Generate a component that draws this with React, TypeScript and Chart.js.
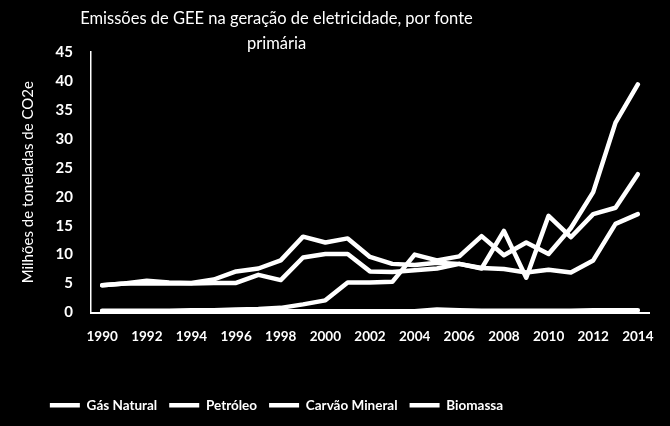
import { useEffect, useRef } from "react";
import { Chart, registerables } from "chart.js";

Chart.register(...registerables);

const years = [
  "1990", "1991", "1992", "1993", "1994", "1995", "1996", "1997", "1998", "1999",
  "2000", "2001", "2002", "2003", "2004", "2005", "2006", "2007", "2008", "2009",
  "2010", "2011", "2012", "2013", "2014",
];
const gasNatural = [0.3, 0.3, 0.3, 0.3, 0.4, 0.4, 0.5, 0.6, 0.8, 1.4, 2.1, 5.2, 5.2, 5.3, 10.0, 9.0, 9.7, 13.2, 9.9, 12.1, 10.1, 14.6, 20.8, 32.8, 39.4];
const petroleo = [4.7, 5.0, 5.5, 5.2, 5.1, 5.7, 7.1, 7.6, 9.0, 13.1, 12.1, 12.8, 9.6, 8.4, 8.2, 8.6, 8.4, 7.6, 14.1, 6.0, 16.7, 13.0, 17.0, 18.1, 23.9];
const carvaoMineral = [4.7, 5.0, 5.0, 5.0, 5.0, 5.1, 5.1, 6.5, 5.6, 9.5, 10.1, 10.1, 7.1, 7.0, 7.3, 7.6, 8.4, 7.7, 7.5, 6.9, 7.4, 6.9, 9.0, 15.3, 17.0];
const biomassa = [0.2, 0.2, 0.2, 0.2, 0.2, 0.2, 0.2, 0.2, 0.2, 0.2, 0.2, 0.2, 0.2, 0.2, 0.2, 0.5, 0.4, 0.3, 0.3, 0.3, 0.3, 0.3, 0.4, 0.4, 0.4];
const seriesNames = ["Gás Natural", "Petróleo", "Carvão Mineral", "Biomassa"];
const titleLines = ["Emissões de GEE na geração de eletricidade, por fonte", "primária"];
const yTitle = "Milhões de toneladas de CO2e";
const yMin = 0;
const yMax = 45;
const yStep = 5;

const FONT = "Lato, 'Open Sans', sans-serif";

export default function App() {
  const ref = useRef<HTMLCanvasElement>(null);

  useEffect(() => {
    if (!ref.current) return;
    const shiftBoxes = {
      id: "shiftBoxes",
      afterLayout(chart: any) {
        const dx = -48;
        const t = chart.titleBlock;
        if (t) { t.left += dx; t.right += dx; }
        const l = chart.legend;
        if (l) { l.left += dx; l.right += dx; }
      },
    };
    const mk = (label: string, data: number[]) => ({
      label,
      data,
      borderColor: "#ffffff",
      backgroundColor: "#ffffff",
      borderWidth: 4.5,
      pointRadius: 0,
      pointHoverRadius: 0,
      tension: 0,
      borderCapStyle: "round" as const,
      borderJoinStyle: "round" as const,
      fill: false,
    });
    const chart = new Chart(ref.current, {
      type: "line",
      data: {
        labels: years,
        datasets: [
          mk(seriesNames[0], gasNatural),
          mk(seriesNames[1], petroleo),
          mk(seriesNames[2], carvaoMineral),
          mk(seriesNames[3], biomassa),
        ],
      },
      plugins: [shiftBoxes],
      options: {
        animation: false,
        responsive: false,
        maintainAspectRatio: false,
        layout: { padding: { top: 0, right: 21, bottom: 4, left: 0 } },
        plugins: {
          title: {
            display: true,
            text: titleLines,
            color: "#ffffff",
            font: { family: FONT, size: 16.5, weight: "normal", lineHeight: 25 / 16.5 },
            padding: { top: 6, bottom: -4 },
          },
          legend: {
            position: "bottom",
            labels: {
              color: "#ffffff",
              usePointStyle: true,
              pointStyle: "line",
              pointStyleWidth: 30,
              boxHeight: 14,
              padding: 12,
              font: { family: FONT, size: 13.5, weight: "bold" },
            },
          },
          tooltip: { enabled: false },
        },
        scales: {
          x: {
            type: "category",
            offset: true,
            grid: { display: false, drawTicks: false },
            border: { display: true, color: "#ffffff", width: 2 },
            ticks: {
              color: "#ffffff",
              autoSkip: false,
              maxRotation: 0,
              minRotation: 0,
              padding: 16,
              font: { family: FONT, size: 13.5, weight: "bold" },
              callback: (_v: any, i: number) => (i % 2 === 0 ? years[i] : ""),
            },
            afterFit: (s: any) => { s.height = 74; },
          },
          y: {
            min: yMin,
            max: yMax,
            grid: { display: false, drawTicks: false },
            border: { display: true, color: "#ffffff", width: 1.5 },
            ticks: {
              stepSize: yStep,
              color: "#ffffff",
              padding: 18,
              font: { family: FONT, size: 15, weight: "bold" },
            },
            title: {
              display: true,
              text: yTitle,
              color: "#ffffff",
              font: { family: FONT, size: 15, weight: "normal" },
              padding: { top: 19, bottom: 0 },
            },
            afterFit: (s: any) => { s.width = 91; },
          },
        },
      },
    });
    return () => chart.destroy();
  }, []);

  return (
    <div style={{ position: "fixed", left: 0, top: 0, width: 670, height: 426, background: "#000000" }}>
      <canvas ref={ref} width={670} height={426} style={{ display: "block" }} />
    </div>
  );
}
